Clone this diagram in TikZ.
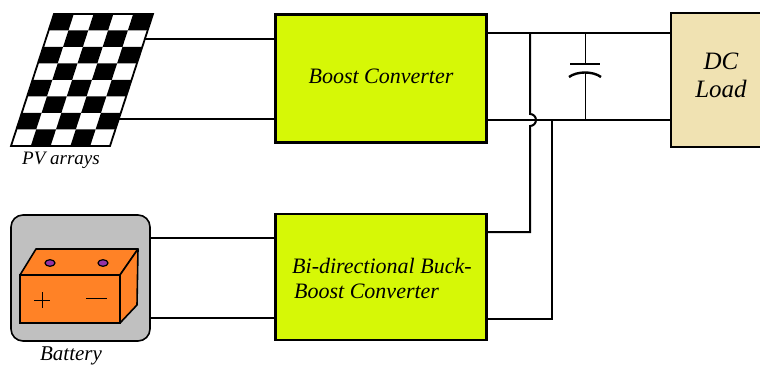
\documentclass[tikz,border=0pt]{standalone}
\usepackage{fontspec}
\setmainfont{Liberation Serif}
\begin{document}
\begin{tikzpicture}[x=1pt,y=-1pt,
  wire/.style={line width=2pt, line join=miter},
  block/.style={draw, line width=2.2pt, fill=#1, inner sep=0pt},
  lbl/.style={font=\itshape\fontsize{22}{24}\selectfont, inner sep=0pt}]
\definecolor{lime}{RGB}{214,248,6}
\definecolor{beige}{RGB}{240,226,178}
\definecolor{battgray}{RGB}{192,192,192}
\definecolor{battorange}{RGB}{255,130,38}
\definecolor{termpurple}{RGB}{150,50,165}
\useasboundingbox (0,0) rectangle (760,366);
\clip (0,0) rectangle (760,366);

% ---- PV array: slanted checkerboard ----
\foreach \r in {0,...,7}{
  \foreach \c in {0,...,4}{
    \pgfmathtruncatemacro\odd{mod(\r+\c,2)}
    \ifnum\odd=0
      \fill ({54+19.8*\c-5.375*\r},{14+16.5*\r})
        -- ({54+19.8*(\c+1)-5.375*\r},{14+16.5*\r})
        -- ({54+19.8*(\c+1)-5.375*(\r+1)},{14+16.5*(\r+1)})
        -- ({54+19.8*\c-5.375*(\r+1)},{14+16.5*(\r+1)}) -- cycle;
    \fi
  }
}
\draw[line width=1.8pt] (54,14) -- (153,14) -- (110,146) -- (11,146) -- cycle;
\coordinate (pvT) at (145,39);
\coordinate (pvB) at (119,119);
\node[font=\itshape\fontsize{19}{21}\selectfont, inner sep=0pt, anchor=base] (pvlabel) at (61,165) {PV arrays};

% ---- Battery ----
\node[draw, line width=1.6pt, fill=battgray, rounded corners=12pt,
      minimum width=139pt, minimum height=126pt, inner sep=0pt] (batt) at (80.5,278) {};
\filldraw[fill=battorange, line width=1.6pt, line join=round]
  (20,275) -- (36,249) -- (138,249) -- (120,275) -- cycle;
\filldraw[fill=battorange, line width=1.6pt, line join=round]
  (120,275) -- (138,249) -- (137,305) -- (120,323) -- cycle;
\filldraw[fill=battorange, line width=1.6pt] (20,275) rectangle (120,323);
\filldraw[fill=termpurple, line width=1.2pt] (50,263) ellipse (5 and 3.3);
\filldraw[fill=termpurple, line width=1.2pt] (103,263) ellipse (5 and 3.3);
\draw[line width=0.8pt] (34,300) -- (50,300) (42,292) -- (42,308);
\draw[line width=0.8pt] (86,298) -- (107,298);
\node[font=\itshape\fontsize{21}{23}\selectfont, inner sep=0pt, anchor=base] (battlabel) at (71,360) {Battery};

% ---- Converters and load ----
\node[block=lime, minimum width=211pt, minimum height=128pt] (boost) at (381,78.5) {};
\node[lbl, anchor=base] at (381,84) {Boost Converter};
\node[block=lime, minimum width=211pt, minimum height=126pt] (bidir) at (381,277) {};
\node[lbl, anchor=base west] at (292,273) {Bi-directional Buck-};
\node[lbl, anchor=base west] at (294,298) {Boost Converter};
\node[block=beige, minimum width=100pt, minimum height=134pt] (load) at (721,80) {};
\node[font=\itshape\fontsize{25}{28}\selectfont, inner sep=0pt, anchor=base] at (721,70) {DC};
\node[font=\itshape\fontsize{25}{28}\selectfont, inner sep=0pt, anchor=base] at (721,98) {Load};

% ---- Wiring ----
\coordinate (railT) at (0,33);
\coordinate (railB) at (0,120);
\draw[wire] (pvT) -- (boost.west |- pvT);
\draw[wire] (pvB) -- (boost.west |- pvB);
\draw[wire] (batt.east |- 0,238) -- (bidir.west |- 0,238);
\draw[wire] (batt.east |- 0,318) -- (bidir.west |- 0,318);
\draw[wire] (boost.east |- railT) -- (load.west |- railT);
\draw[wire] (boost.east |- railB) -- (load.west |- railB);
% positive link, hopping over the negative rail
\coordinate (hop) at (530,114);
\draw[wire] (530,33) -- (hop) arc(-90:90:6) -- (530,232) -- (bidir.east |- 0,232);
% negative link
\coordinate (neg) at (552,120);
\draw[wire] (bidir.east |- 0,319) -- (552,319) -- (neg);

% ---- DC-link capacitor ----
\draw[line width=0.9pt] (585,33) -- (585,64);
\draw[line width=2.4pt] (570,64) -- (600,64);
\draw[line width=2.4pt] (569,77) .. controls (577,71) and (593,71) .. (601,77);
\draw[line width=0.9pt] (585,73) -- (585,120);
\end{tikzpicture}
\end{document}
